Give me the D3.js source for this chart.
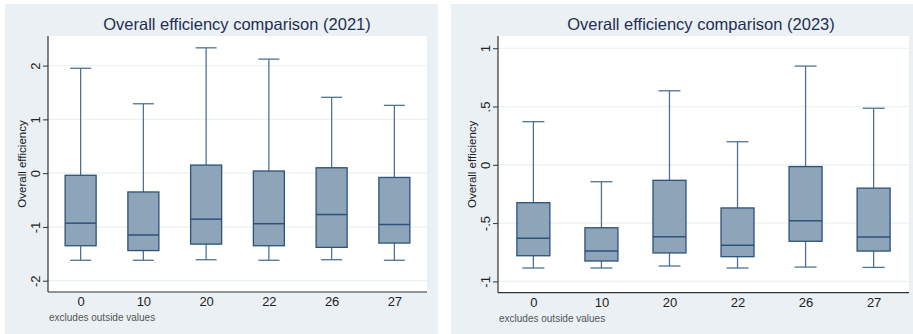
<!DOCTYPE html>
<html><head><meta charset="utf-8">
<script src="https://cdn.jsdelivr.net/npm/d3@7/dist/d3.min.js"></script>
<style>
html,body{margin:0;padding:0;background:#fff;}
svg{display:block;font-family:"Liberation Sans",Arial,sans-serif;}
</style></head><body>
<svg id="c" width="913" height="334"></svg>
<script>
const categories = ["0","10","20","22","26","27"];
// 2021: [lower whisker, Q1, median, Q3, upper whisker]
const low2021 = [-1.62,-1.62,-1.61,-1.62,-1.61,-1.62];
const q1_2021 = [-1.35,-1.44,-1.32,-1.35,-1.38,-1.30];
const med2021 = [-0.93,-1.15,-0.855,-0.94,-0.77,-0.955];
const q3_2021 = [-0.04,-0.35,0.15,0.04,0.10,-0.08];
const up2021  = [1.95,1.29,2.33,2.12,1.41,1.26];
const ticks2021 = [2,1,0,-1,-2];
const tickLabels2021 = ["2","1","0","-1","-2"];

const low2023 = [-0.885,-0.885,-0.868,-0.885,-0.877,-0.88];
const q1_2023 = [-0.78,-0.825,-0.756,-0.788,-0.656,-0.74];
const med2023 = [-0.63,-0.74,-0.617,-0.69,-0.48,-0.62];
const q3_2023 = [-0.325,-0.54,-0.133,-0.37,-0.015,-0.20];
const up2023  = [0.37,-0.145,0.635,0.198,0.847,0.485];
const ticks2023 = [1,0.5,0,-0.5,-1];
const tickLabels2023 = ["1",".5","0","-.5","-1"];

const svg = d3.select("#c");

function panel(o){
  const g = svg.append("g");
  g.append("rect").attr("x",o.bx).attr("y",o.by).attr("width",o.bw).attr("height",o.bh).attr("fill","#eaf0f3");
  g.append("rect").attr("x",o.px0).attr("y",o.py0).attr("width",o.px1-o.px0).attr("height",o.py1-o.py0).attr("fill","#ffffff");
  const x = d3.scalePoint().domain(categories).range([o.px0,o.px1]).padding(0.52);
  const y = d3.scaleLinear().domain(o.ydom).range([o.py1,o.py0]);
  // grid
  g.selectAll("line.grid").data(o.ticks).enter().append("line")
    .attr("x1",o.px0).attr("x2",o.px1).attr("y1",d=>y(d)).attr("y2",d=>y(d))
    .attr("stroke","#eaf2f3").attr("stroke-width",1.2);
  // boxes
  const data = categories.map((c,i)=>({c,lo:o.low[i],q1:o.q1[i],md:o.med[i],q3:o.q3[i],hi:o.up[i]}));
  const bw = o.boxW, cw = o.capW;
  const wc = "#4f7293";
  const bg = g.selectAll("g.box").data(data).enter().append("g");
  bg.append("line").attr("x1",d=>x(d.c)).attr("x2",d=>x(d.c)).attr("y1",d=>y(d.hi)).attr("y2",d=>y(d.q3)).attr("stroke",wc).attr("stroke-width",1.3);
  bg.append("line").attr("x1",d=>x(d.c)).attr("x2",d=>x(d.c)).attr("y1",d=>y(d.q1)).attr("y2",d=>y(d.lo)).attr("stroke",wc).attr("stroke-width",1.3);
  bg.append("line").attr("x1",d=>x(d.c)-cw/2).attr("x2",d=>x(d.c)+cw/2).attr("y1",d=>y(d.hi)).attr("y2",d=>y(d.hi)).attr("stroke",wc).attr("stroke-width",1.3);
  bg.append("line").attr("x1",d=>x(d.c)-cw/2).attr("x2",d=>x(d.c)+cw/2).attr("y1",d=>y(d.lo)).attr("y2",d=>y(d.lo)).attr("stroke",wc).attr("stroke-width",1.3);
  bg.append("rect").attr("x",d=>x(d.c)-bw/2).attr("width",bw).attr("y",d=>y(d.q3)).attr("height",d=>y(d.q1)-y(d.q3))
    .attr("fill","#8ea4b8").attr("stroke","#2c5279").attr("stroke-width",1.3);
  bg.append("line").attr("x1",d=>x(d.c)-bw/2).attr("x2",d=>x(d.c)+bw/2).attr("y1",d=>y(d.md)).attr("y2",d=>y(d.md)).attr("stroke","#2c5279").attr("stroke-width",1.5);
  // axes
  const ya = d3.axisLeft(y).tickValues(o.ticks).tickSize(5).tickFormat((d,i)=>o.tickLabels[i]);
  const yg = g.append("g").attr("transform",`translate(${o.px0},0)`).call(ya);
  yg.select(".domain").attr("stroke","#333").attr("stroke-width",1.2).attr("d",`M0,${o.py0}V${o.py1}`);
  yg.selectAll(".tick line").attr("stroke","#333");
  yg.selectAll(".tick text").attr("transform","rotate(-90)").attr("x",0).attr("y",-13).attr("dy","0.35em")
    .attr("text-anchor","middle").attr("fill","#222").style("font-size","13px").style("font-family","'Liberation Sans',Arial,sans-serif");
  const xa = d3.axisBottom(x).tickSize(0).tickPadding(5);
  const xg = g.append("g").attr("transform",`translate(0,${o.py1})`).call(xa);
  xg.select(".domain").attr("stroke","#333").attr("stroke-width",1.2).attr("d",`M${o.px0},0H${o.px1}`);
  xg.selectAll(".tick text").attr("fill","#222").style("font-size","13px").style("font-family","'Liberation Sans',Arial,sans-serif");
  // labels
  g.append("text").attr("x",o.titleX).attr("y",30).attr("text-anchor","middle").attr("fill","#1e2f55").style("font-size","16.5px").text(o.title);
  g.append("text").attr("transform",`translate(${o.px0-22},${(o.py0+o.py1)/2}) rotate(-90)`).attr("text-anchor","middle").attr("fill","#222").style("font-size","11.5px").text("Overall efficiency");
  g.append("text").attr("x",o.px0+1).attr("y",o.py1+29).attr("fill","#555").style("font-size","10px").text("excludes outside values");
}

panel({bx:5,by:4,bw:433,bh:330,px0:48,px1:427,py0:36,py1:292,ydom:[-2.21,2.55],
  low:low2021,q1:q1_2021,med:med2021,q3:q3_2021,up:up2021,ticks:ticks2021,tickLabels:tickLabels2021,
  boxW:31,capW:21,title:"Overall efficiency comparison (2021)",titleX:237});
panel({bx:451,by:4,bw:462,bh:330,px0:498,px1:909,py0:36,py1:292.7,ydom:[-1.097,1.105],
  low:low2023,q1:q1_2023,med:med2023,q3:q3_2023,up:up2023,ticks:ticks2023,tickLabels:tickLabels2023,
  boxW:33,capW:22,title:"Overall efficiency comparison (2023)",titleX:701});
</script></body></html>
